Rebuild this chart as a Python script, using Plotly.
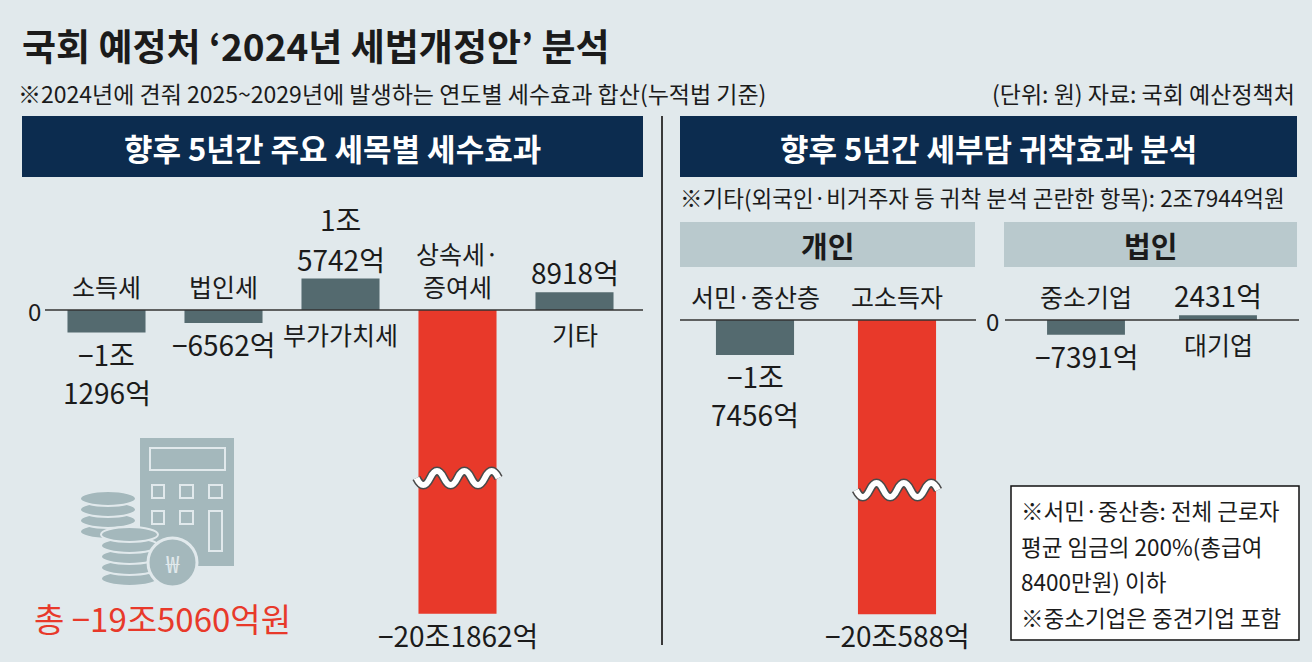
import plotly.graph_objects as go

W, H = 1312, 662
BG = "#e1e9ec"
NAVY = "#0c2c4f"
SLATE = "#546a6f"
RED = "#e8392a"
BAND = "#b9c9cd"
ICON = "#a4b8bc"
INK = "#1b1b1b"
FONT = "Noto Sans CJK KR"

# 단위: 억원
tax_items = ["소득세", "법인세", "부가가치세", "상속세·증여세", "기타"]
tax_labels = ["소득세", "법인세", "부가가치세", "상속세·<br>증여세", "기타"]
tax_values = [-11296, -6562, 15742, -201862, 8918]

person_items = ["서민·중산층", "고소득자"]
person_values = [-17456, -200588]

corp_items = ["중소기업", "대기업"]
corp_values = [-7391, 2431]

total_value = -195060
other_value = 27944

notes = ["※서민·중산층: 전체 근로자", "평균 임금의 200%(총급여", "8400만원) 이하",
         "※중소기업은 중견기업 포함"]

S = 0.002  # 픽셀 / 억원


def px(x):
    return x / W


def py(y):
    return 1 - y / H


def won(v, wrap=True):
    sign = "−" if v < 0 else ""
    jo, eok = divmod(abs(v), 10000)
    if jo == 0:
        return f"{sign}{eok}억"
    sep = "<br>" if (wrap and jo < 10) else ""
    return f"{sign}{jo}조{sep}{eok}억"


def y_axes(base, brk, top, bot, gap):
    # 잘린 축: 위쪽 구간과 아래쪽 구간
    top_rng = [-(brk - base) / S, (base - top) / S]
    vb = top_rng[0] - gap
    bot_rng = [vb - (bot - brk) / S, vb]
    return top_rng, bot_rng


L_TOP, L_BOT = y_axes(310, 478, 180, 662, 50000)
R_TOP, R_BOT = y_axes(320, 490, 180, 662, 53500)


def colors(vals):
    return [RED if v <= -100000 else SLATE for v in vals]


fig = go.Figure()


def add_bars(cats, vals, xa, ya, width):
    fig.add_trace(go.Bar(x=cats, y=vals, xaxis=xa, yaxis=ya, width=width,
                         marker=dict(color=colors(vals), line=dict(width=0)),
                         hoverinfo="skip", showlegend=False))


add_bars(tax_items, tax_values, "x", "y", 0.667)
add_bars(tax_items, tax_values, "x2", "y2", 0.667)
add_bars(person_items, person_values, "x3", "y3", 0.55)
add_bars(person_items, person_values, "x4", "y4", 0.55)
add_bars(corp_items, corp_values, "x5", "y3", 0.59)

hidden = dict(visible=False, showgrid=False, zeroline=False, fixedrange=True)

fig.update_layout(
    width=W, height=H,
    margin=dict(l=0, r=0, t=0, b=0),
    paper_bgcolor=BG, plot_bgcolor="rgba(0,0,0,0)",
    font=dict(family=FONT, color=INK),
    xaxis=dict(hidden, type="category", domain=[px(48), px(633)], range=[-0.5, 4.5], anchor="y"),
    xaxis2=dict(hidden, type="category", domain=[px(48), px(633)], range=[-0.5, 4.5], anchor="y2"),
    xaxis3=dict(hidden, type="category", domain=[px(684), px(968)], range=[-0.5, 1.5], anchor="y3"),
    xaxis4=dict(hidden, type="category", domain=[px(684), px(968)], range=[-0.5, 1.5], anchor="y4"),
    xaxis5=dict(hidden, type="category", domain=[px(1020), px(1284)], range=[-0.5, 1.5], anchor="y3"),
    yaxis=dict(hidden, domain=[py(478), py(180)], range=L_TOP, anchor="x"),
    yaxis2=dict(hidden, domain=[0, py(478)], range=L_BOT, anchor="x2"),
    yaxis3=dict(hidden, domain=[py(490), py(180)], range=R_TOP, anchor="x3"),
    yaxis4=dict(hidden, domain=[0, py(490)], range=R_BOT, anchor="x4"),
)

ann = []
shapes = []


def text(x, y, s, size, color=INK, xanchor="center", yanchor="middle",
         xref="paper", yref="paper", yshift=0, bold=False):
    if bold:
        s = f"<b>{s}</b>"
    ann.append(dict(x=x, y=y, text=s, xref=xref, yref=yref, showarrow=False,
                    xanchor=xanchor, yanchor=yanchor, yshift=yshift,
                    font=dict(size=size, color=color, family=FONT)))


def rect(x0, y0, x1, y1, fill, line=None, lw=0):
    shapes.append(dict(type="rect", xref="paper", yref="paper",
                       x0=px(x0), x1=px(x1), y0=py(y1), y1=py(y0),
                       fillcolor=fill, line=dict(color=line or fill, width=lw)))


def ellipse(x0, y0, x1, y1, fill, line, lw):
    shapes.append(dict(type="circle", xref="paper", yref="paper",
                       x0=px(x0), x1=px(x1), y0=py(y1), y1=py(y0),
                       fillcolor=fill, line=dict(color=line, width=lw)))


def bar_labels(cats, labels, vals, xa, xa_b, ya, ya_b, lim):
    for c, lab, v in zip(cats, labels, vals):
        up = v < 0
        text(c, 0, lab, 25, xref=xa, yref=ya,
             yanchor="bottom" if up else "top", yshift=4 if up else -4)
        big = v < lim
        xr, yr = (xa_b, ya_b) if big else (xa, ya)
        lines = won(v).split("<br>")
        if v < 0:
            for i, s in enumerate(lines):
                text(c, v, s, 28, xref=xr, yref=yr, yanchor="top", yshift=1 - i * 38)
        else:
            for j, s in enumerate(reversed(lines)):
                text(c, v, s, 28, xref=xr, yref=yr, yanchor="bottom", yshift=-2 + j * 40)


bar_labels(tax_items, tax_labels, tax_values, "x", "x2", "y", "y2", L_TOP[0])
bar_labels(person_items, person_items, person_values, "x3", "x4", "y3", "y4", R_TOP[0])
bar_labels(corp_items, corp_items, corp_values, "x5", "x5", "y3", "y3", R_TOP[0])

# 제목/부제
text(px(20), py(45), "국회 예정처 ‘2024년 세법개정안’ 분석", 37, xanchor="left", bold=True)
text(px(16), py(93), "※2024년에 견줘 2025~2029년에 발생하는 연도별 세수효과 합산(누적법 기준)",
     23, xanchor="left")
text(px(1297), py(93), "(단위: 원) 자료: 국회 예산정책처", 23, xanchor="right")

# 헤더 박스
rect(22, 116, 643, 177, NAVY)
rect(680, 116, 1297, 177, NAVY)
text(px(332), py(147), "향후 5년간 주요 세목별 세수효과", 31, color="white", bold=True)
text(px(988), py(147), "향후 5년간 세부담 귀착효과 분석", 31, color="white", bold=True)

text(px(678), py(197), f"※기타(외국인·비거주자 등 귀착 분석 곤란한 항목): {won(other_value, False)}원",
     22.5, xanchor="left")
rect(680, 222, 975, 267, BAND)
rect(1004, 222, 1297, 267, BAND)
text(px(827), py(245), "개인", 29, bold=True)
text(px(1150), py(245), "법인", 29, bold=True)

# 구분선
shapes.append(dict(type="line", xref="paper", yref="paper", x0=px(662), x1=px(662),
                   y0=py(645), y1=py(116), line=dict(color="#3a3a3a", width=2)))

# 기준선
for x0, x1, yref in [(45, 643, "y"), (680, 976, "y3"), (1005, 1299, "y3")]:
    shapes.append(dict(type="line", xref="paper", yref=yref, x0=px(x0), x1=px(x1),
                       y0=0, y1=0, line=dict(color="#333333", width=1.6)))
text(px(34), 0, "0", 24, yref="y")
text(px(992), 0, "0", 24, yref="y3")


# 물결 (축 생략 표시)
def wave(cx, y, w=82, a=7, n=6):
    x0 = cx - w / 2
    step = w / n
    d = f"M{px(x0)},{py(y)}"
    for k in range(n):
        sgn = 1 if k % 2 == 0 else -1
        qx = x0 + step * (k + 0.5)
        ex = x0 + step * (k + 1)
        d += f" Q{px(qx)},{py(y + sgn * a * 2)} {px(ex)},{py(y)}"
    shapes.append(dict(type="path", path=d, xref="paper", yref="paper",
                       line=dict(color="#4a4a4a", width=9)))
    shapes.append(dict(type="path", path=d, xref="paper", yref="paper",
                       line=dict(color="white", width=6)))


wave(457.5, 478)
wave(897, 490)

# 주석 박스
rect(1011, 486, 1299, 640, "white", "#111111", 1.5)
for i, s in enumerate(notes):
    text(px(1019), py(510 + i * 35.5), s, 22.5, xanchor="left")

# 아이콘 (계산기 + 동전)
rect(140, 438, 234, 566, ICON)
rect(150, 448, 225, 470, ICON, BG, 2)
for x0, y0, x1, y1 in [(152, 485, 164, 498), (180, 485, 193, 498), (209, 485, 222, 498),
                       (152, 511, 164, 524), (180, 511, 193, 524), (209, 511, 222, 551)]:
    rect(x0, y0, x1, y1, ICON, BG, 2)
for t in [524, 513, 502, 491]:
    ellipse(80, t, 136, t + 15, ICON, BG, 2)
for t in [571, 560, 549, 538, 527]:
    ellipse(101, t, 158, t + 15, ICON, BG, 2)
ellipse(148, 538, 197, 587, ICON, BG, 3)
text(px(172.5), py(562), "₩", 24, color=BG)

text(px(162), py(618), f"총 {won(total_value, False)}원", 33, color=RED)

fig.update_layout(annotations=ann, shapes=shapes)
fig.write_html("out.html", config={"displayModeBar": False},
               post_script="document.body.style.margin='0';")
